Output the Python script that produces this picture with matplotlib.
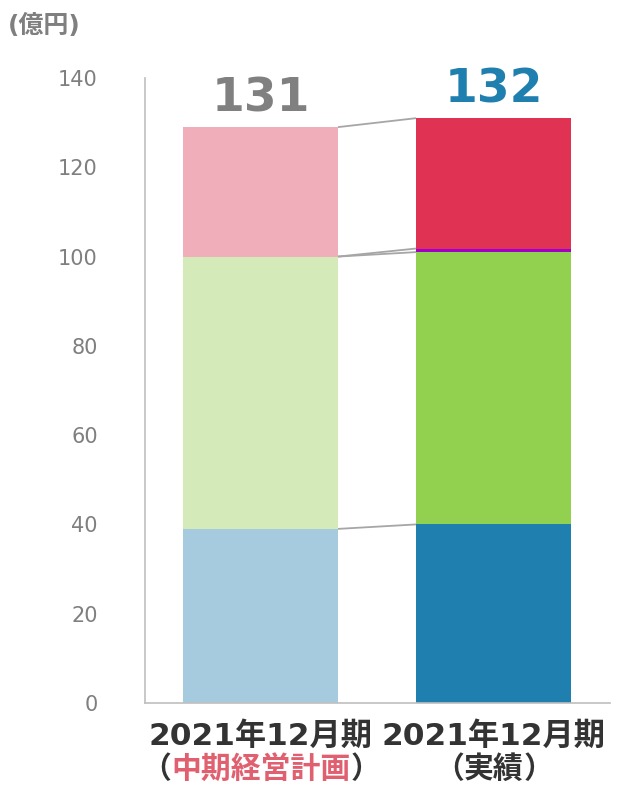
import matplotlib
matplotlib.use("Agg")
import matplotlib.pyplot as plt
import numpy as np

plt.rcParams['font.family'] = ['Noto Sans CJK JP', 'DejaVu Sans']

categories = ["2021年12月期", "2021年12月期"]
sub_labels = [("（", "中期経営計画", "）"), ("（", "実績", "）")]
plan_values = [39, 61, 29]          # 中期経営計画
actual_values = [40, 61, 0.8, 29.2]  # 実績
totals = ["131", "132"]
yticks = [0, 20, 40, 60, 80, 100, 120, 140]

plan_colors = ["#A6CADE", "#D4EBB9", "#F0AEBA"]
actual_colors = ["#1F7FAF", "#92D050", "#A000C8", "#E03252"]

fig = plt.figure(figsize=(6.2, 7.91), dpi=100)
ax = fig.add_axes([145/620, 88/791, 465/620, 625/791])

width = 0.665
xpos = [0, 1]

def stack(x, vals, cols):
    bottom = 0
    tops = []
    for v, c in zip(vals, cols):
        ax.bar(x, v, width=width, bottom=bottom, color=c, edgecolor='none', zorder=2)
        bottom += v
        tops.append(bottom)
    return tops

ptops = stack(xpos[0], plan_values, plan_colors)
atops = stack(xpos[1], actual_values, actual_colors)

# connectors
x0 = xpos[0] + width/2
x1 = xpos[1] - width/2
pairs = [(ptops[0], atops[0]), (ptops[1], atops[1]), (ptops[1], atops[2]), (ptops[2], atops[3])]
for a, b in pairs:
    ax.plot([x0, x1], [a, b], color="#A6A6A6", lw=1.3, zorder=1, solid_capstyle='butt')

ax.text(xpos[0], ptops[-1] + 1.2, totals[0], ha='center', va='bottom',
        fontsize=34, fontweight='bold', color='#808080', family=['DejaVu Sans'])
ax.text(xpos[1], atops[-1] + 1.2, totals[1], ha='center', va='bottom',
        fontsize=34, fontweight='bold', color='#1F7FAF', family=['DejaVu Sans'])

ax.set_xlim(-0.496, 1.5)
ax.set_ylim(0, 140)
ax.set_yticks(yticks)
ax.set_yticklabels([str(t) for t in yticks], fontsize=15, color='#7F7F7F', family=['DejaVu Sans'])
ax.tick_params(axis='y', length=0, pad=34)
ax.set_xticks([])
for s in ['top', 'right']:
    ax.spines[s].set_visible(False)
ax.spines['left'].set_color('#BFBFBF')
ax.spines['bottom'].set_color('#BFBFBF')
ax.spines['left'].set_linewidth(1.2)
ax.spines['bottom'].set_linewidth(1.2)

fam1 = ['DejaVu Sans', 'Noto Sans CJK JP']
fs1 = 22.5
fs2 = 21.5
fig.canvas.draw()
r_ = fig.canvas.get_renderer()
for x, cat, (l, mid, r) in zip(xpos, categories, sub_labels):
    px = ax.transData.transform((x, 0))[0]
    fig.text(px/620, 1 - 736/791, cat, ha='center', va='center', fontsize=fs1,
             fontweight='bold', color='#333333', family=fam1)
    midcol = '#E06070' if mid == "中期経営計画" else '#333333'
    t = fig.text(0, 0, l + mid + r, fontsize=fs2, fontweight='bold')
    wtot = t.get_window_extent(r_).width
    t.remove()
    tl = fig.text(0, 0, l, fontsize=fs2, fontweight='bold')
    tm = fig.text(0, 0, mid, fontsize=fs2, fontweight='bold')
    wl = tl.get_window_extent(r_).width
    wm = tm.get_window_extent(r_).width
    tl.remove(); tm.remove()
    start = px - wtot/2
    y = 1 - 769/791
    fig.text(start/620, y, l, ha='left', va='center', fontsize=fs2, fontweight='bold', color='#333333')
    fig.text((start + wl)/620, y, mid, ha='left', va='center', fontsize=fs2, fontweight='bold', color=midcol)
    fig.text((start + wl + wm)/620, y, r, ha='left', va='center', fontsize=fs2, fontweight='bold', color='#333333')

fig.text(8/620, 1 - 26/791, "(億円)", ha='left', va='center', fontsize=18,
         fontweight='bold', color='#7F7F7F', family=['DejaVu Sans', 'Noto Sans CJK JP'])

fig.savefig("out.png", dpi=100)
